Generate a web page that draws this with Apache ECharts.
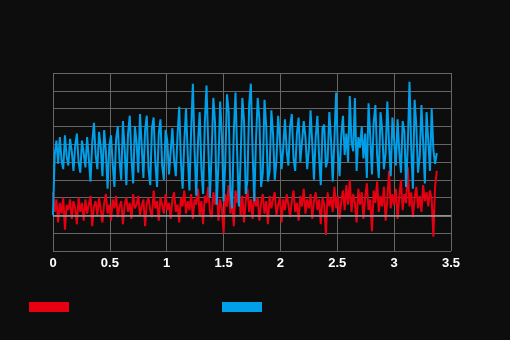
<!DOCTYPE html>
<html>
<head>
<meta charset="utf-8">
<script src="https://cdn.jsdelivr.net/npm/echarts@6/dist/echarts.min.js"></script>
<style>html,body{margin:0;padding:0;background:#0d0d0d;}#c{width:510px;height:340px;}</style>
</head>
<body>
<div id="c"></div>
<script>
const X_STEP = 0.015;
const xTicks = ['0','0.5','1','1.5','2','2.5','3','3.5'];
const seriesNames = ['Series A', 'Series B'];
const redValues = [
1.3,0.2,0.9,-0.4,0.7,0.1,1.0,-0.8,0.6,0.3,
0.9,-0.2,0.8,0.4,-0.5,1.0,0.2,0.7,-0.3,0.9,
0.1,0.6,1.1,-0.6,0.5,0.8,0.0,1.0,0.3,-0.4,
0.7,1.2,0.1,0.6,-0.3,0.9,0.4,1.1,-0.1,0.5,
0.8,-0.5,0.6,1.0,0.2,0.7,-0.2,1.2,0.4,0.6,
1.1,0.0,0.5,0.9,-0.6,0.7,1.0,0.3,-0.1,1.4,
0.4,0.8,-0.3,1.0,0.6,0.1,1.2,0.3,0.7,-0.2,
0.9,1.3,0.2,0.6,-0.4,1.0,0.5,1.4,0.1,0.8,
0.3,1.2,-0.2,0.9,0.6,1.5,0.0,0.8,-0.5,1.1,
0.7,1.6,0.2,-0.1,1.3,0.6,1.5,-0.3,0.9,0.4,
-1.0,1.2,0.5,1.7,0.1,0.9,-0.6,1.4,0.7,1.6,
0.0,1.1,-0.4,0.8,1.5,0.2,0.9,-0.2,1.3,0.5,
1.0,-0.3,0.7,1.2,0.1,0.8,-0.5,1.1,0.4,0.9,
1.3,0.0,0.6,1.0,-0.4,0.9,0.3,1.2,0.6,-0.1,
0.8,1.4,0.2,0.7,-0.3,1.1,0.5,1.5,0.1,0.9,
0.4,1.2,-0.2,0.8,1.3,0.3,0.9,-0.5,1.0,0.6,
-1.1,1.3,0.5,1.0,0.2,1.6,0.4,1.1,-0.2,0.8,
1.4,0.3,1.7,0.6,2.0,0.2,1.2,0.7,-0.4,1.5,
0.6,1.3,-0.2,1.0,1.8,0.3,0.9,-0.9,1.4,0.7,
1.9,0.2,1.1,0.5,1.6,-0.3,0.9,2.5,0.4,1.2,
0.6,1.5,-0.2,1.0,2.0,0.3,1.2,0.7,2.7,0.5,
1.3,-0.1,1.0,1.6,0.4,1.1,0.2,1.7,0.8,1.3,
0.5,1.4,0.9,-1.2,1.6,2.5
];
const blueValues = [
0,3.4,4.2,2.9,4.4,3.1,2.6,4.5,3.3,2.8,
4.3,3.6,2.5,3.9,4.6,3.0,2.4,4.2,3.5,2.7,
4.4,3.2,1.9,4.1,5.2,3.4,2.6,4.7,3.8,2.2,
4.8,3.6,1.5,3.9,4.5,2.9,1.6,4.3,5.0,3.1,
2.0,5.3,3.7,1.7,4.6,5.6,3.2,1.8,5.0,4.1,
2.4,5.7,3.9,2.1,4.8,5.6,2.6,1.7,4.9,5.5,
3.0,1.6,4.6,5.4,2.8,2.0,4.8,4.2,2.3,3.6,
4.9,3.1,2.2,4.5,6.1,3.0,1.5,4.2,6.0,3.4,
1.4,4.8,7.4,3.6,1.1,4.1,5.8,2.6,1.2,5.2,
7.3,4.0,1.0,3.5,6.6,5.2,0.6,2.9,6.4,4.5,
0.8,3.0,6.8,5.8,1.3,0.4,4.7,6.9,3.4,0.5,
3.2,6.6,5.3,1.2,2.0,6.2,7.4,3.6,0.8,4.2,
6.6,5.4,1.6,2.4,6.5,5.0,1.9,2.5,5.9,4.6,
2.0,3.1,5.6,4.3,2.6,3.8,5.4,3.6,2.8,5.0,
5.7,3.2,2.5,4.6,5.5,3.0,2.9,5.3,4.4,2.6,
3.7,5.9,4.0,2.0,4.4,5.6,3.3,1.7,4.9,5.1,
2.7,3.1,5.8,4.2,1.9,4.3,6.9,3.6,2.2,4.5,
5.6,3.4,4.6,3.0,6.7,4.1,3.6,6.6,2.5,4.4,
3.8,5.0,3.2,4.6,2.1,6.3,4.4,2.3,5.2,6.2,
3.4,2.1,5.8,4.8,2.6,3.5,6.4,4.0,2.2,5.5,
4.2,2.8,5.4,3.6,2.4,5.3,4.7,1.6,3.9,7.5,
3.8,1.5,6.5,5.0,2.4,3.3,6.2,4.1,1.8,5.8,
4.2,2.5,6.0,3.7,2.9,3.5
];
function pairs(vals){ return vals.map((v,i)=>[+(i*X_STEP).toFixed(3), v]); }

const chart = echarts.init(document.getElementById('c'), null, {renderer:'canvas'});
chart.setOption({
  backgroundColor: '#0d0d0d',
  animation: false,
  grid: {left: 53, right: 59, top: 73, bottom: 89},
  legend: {
    left: 24, top: 297, icon: 'rect', itemWidth: 40, itemHeight: 10, itemGap: 153,
    formatter: () => '',
    data: seriesNames
  },
  xAxis: {
    type: 'value', min: 0, max: 3.5, interval: 0.5,
    axisLine: {show: false}, axisTick: {show: false},
    axisLabel: {color: '#ffffff', fontSize: 13, fontWeight: 'bold', fontFamily: 'Liberation Sans', margin: 6,
      formatter: (v) => xTicks[Math.round(v / 0.5)]},
    splitLine: {show: true, lineStyle: {color: '#666666', width: 1}}
  },
  yAxis: {
    type: 'value', min: -2, max: 8, interval: 1,
    axisLine: {show: false}, axisTick: {show: false}, axisLabel: {show: false},
    splitLine: {show: true, lineStyle: {color: '#666666', width: 1}}
  },
  series: [
    {
      name: seriesNames[0], type: 'line', showSymbol: false, data: pairs(redValues),
      color: '#e60012', lineStyle: {width: 2, color: '#e60012'},
      markLine: {silent: true, symbol: 'none', label: {show: false},
        lineStyle: {color: '#a0a0a0', width: 1.5, type: 'solid'}, data: [{yAxis: 0}]}
    },
    {
      name: seriesNames[1], type: 'line', showSymbol: false, data: pairs(blueValues),
      color: '#009fe8', lineStyle: {width: 2, color: '#009fe8'}
    }
  ]
});
</script>
</body>
</html>
